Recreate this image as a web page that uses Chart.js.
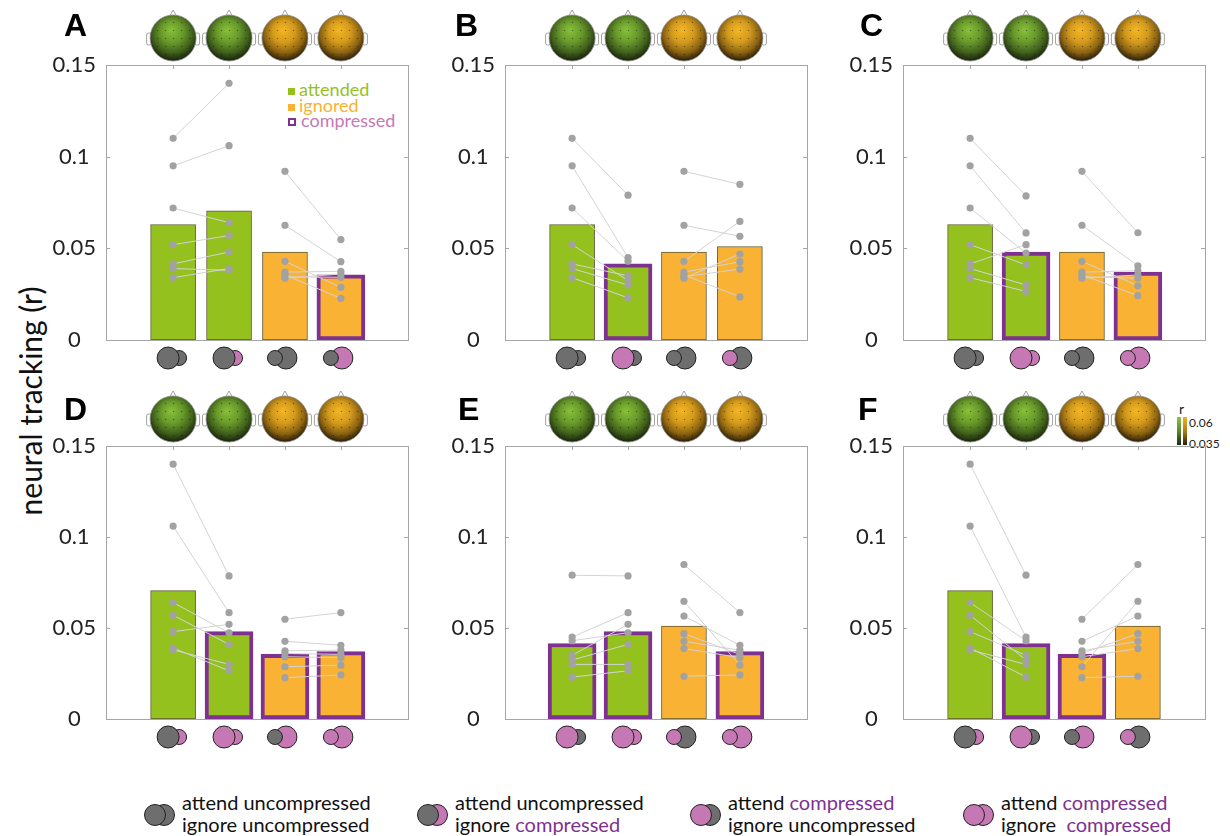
<!DOCTYPE html>
<html>
<head>
<meta charset="utf-8">
<script src="https://cdn.jsdelivr.net/npm/chart.js@4.4.0/dist/chart.umd.min.js"></script>
<style>
  body { margin: 0; background: #fff; font-family: Lato, "Open Sans", sans-serif; }
  #fig { position: relative; width: 1230px; height: 836px; overflow: hidden; background: #fff; }
  #fig canvas { position: absolute; }
  .letter { position: absolute; font: bold 32px "Liberation Sans", Arial, sans-serif; color: #000; line-height: 1; }
  #ytitle { position: absolute; left: 30px; top: 401px; transform: translate(-50%, -50%) rotate(-90deg);
            font-size: 30px; color: #111; white-space: nowrap; }
  #inlegend { position: absolute; left: 288px; top: 82px; font-size: 18px; line-height: 15.5px; }
  #inlegend .sq { display: inline-block; width: 7px; height: 7px; margin-right: 4px; vertical-align: 1px; }
  .leg { position: absolute; top: 791px; }
  .leg svg { position: absolute; left: 0; top: 11px; }
  .leg .lt { position: absolute; left: 39px; top: 0; font-size: 20px; line-height: 22px; color: #111; white-space: nowrap; }
  .purple { color: #7e3191; }
  #cbar { position: absolute; left: 1177px; top: 417px; }
  #cbar .b { position: absolute; top: 0; width: 4px; height: 28px; }
  #cbar .t { position: absolute; font-size: 12px; color: #222; white-space: nowrap; line-height: 1; }
</style>
</head>
<body>
<div id="fig">
  <div id="ytitle">neural tracking (r)</div>
  <div id="inlegend">
    <div style="color:#95c11f"><span class="sq" style="background:#95c11f"></span>attended</div>
    <div style="color:#f9b233"><span class="sq" style="background:#f9b233"></span>ignored</div>
    <div style="color:#c678b4"><span class="sq" style="border:2px solid #7e3191;width:4px;height:4px;margin-right:5px"></span>compressed</div>
  </div>
  <div id="cbar">
    <div class="b" style="left:0;background:linear-gradient(#8cc63f,#5c8a28 50%,#1c2a0c)"></div>
    <div class="b" style="left:6px;background:linear-gradient(#f2b322,#b07e18 50%,#2a1f06)"></div>
    <div class="t" style="left:2px;top:-15px;font-size:14px">r</div>
    <div class="t" style="left:12px;top:0">0.06</div>
    <div class="t" style="left:12px;top:21px">0.035</div>
  </div>
</div>

<script>
// subject values (7 listeners) per condition
// att/ign = which stream is measured, then attended stream U/C, ignored stream U/C
const attUU = [0.110, 0.095, 0.072, 0.052, 0.0415, 0.039, 0.034];
const attUC = [0.140, 0.106, 0.064, 0.057, 0.048, 0.038, 0.039];
const attCU = [0.079, 0.045, 0.043, 0.0324, 0.035, 0.030, 0.023];
const attCC = [0.0786, 0.0584, 0.0474, 0.041, 0.052, 0.030, 0.0265];
const ignUU = [0.092, 0.0626, 0.0429, 0.037, 0.0355, 0.0345, 0.0337];
const ignUC = [0.0548, 0.0427, 0.0287, 0.0375, 0.0227, 0.0342, 0.036];
const ignCU = [0.0849, 0.0566, 0.0647, 0.0427, 0.0235, 0.0387, 0.0469];
const ignCC = [0.0585, 0.0405, 0.0296, 0.0378, 0.0242, 0.0337, 0.0355];

const conditions = ['attUU', 'attUC', 'attCU', 'attCC', 'ignUU', 'ignUC', 'ignCU', 'ignCC'];
const subjects = [attUU, attUC, attCU, attCC, ignUU, ignUC, ignCU, ignCC];
// bar heights (group means)
const means = [0.063, 0.0705, 0.0415, 0.048, 0.048, 0.0355, 0.051, 0.037];

// which four conditions each panel shows
const panelLetters = ['A', 'B', 'C', 'D', 'E', 'F'];
const panelConds = [[0, 1, 4, 5], [0, 2, 4, 6], [0, 3, 4, 7], [1, 3, 5, 7], [2, 3, 6, 7], [1, 2, 5, 6]];

const yTicks = [0, 0.05, 0.1, 0.15];
const yTickLabels = ['0', '0.05', '0.1', '0.15'];

// bottom legend
const legendAtt = ['U', 'U', 'C', 'C'];
const legendIgn = ['U', 'C', 'U', 'C'];

const GREEN = '#95c11f', ORANGE = '#f9b233', PURPLE = '#7e3191';
const GREY_ICON = '#6e6e6e', PINK = '#c678b4';

// layout of the six panels (plot frame positions in the page)
const frameLeft = [106, 505, 903];
const frameTop = [65, 446];
const frameH = [275, 273];
const letterPos = [[64, 9], [455, 9], [860, 9], [64, 393], [458, 393], [858, 393]];

const fig = document.getElementById('fig');

function isAtt(c) { return conditions[c].startsWith('att'); }
function attType(c) { return conditions[c][3]; }
function ignType(c) { return conditions[c][4]; }
function isCompressed(c) { return isAtt(c) ? attType(c) === 'C' : ignType(c) === 'C'; }

function circle(ctx, x, y, r, fill) {
  ctx.beginPath();
  ctx.arc(x, y, r, 0, 2 * Math.PI);
  ctx.fillStyle = fill;
  ctx.fill();
  ctx.lineWidth = 1;
  ctx.strokeStyle = '#222';
  ctx.stroke();
}

function drawHead(ctx, cx, cy, r, warm) {
  ctx.save();
  ctx.lineWidth = 0.8;
  ctx.strokeStyle = '#8a8a8a';
  ctx.fillStyle = '#fff';
  // ears
  [-1, 1].forEach(s => {
    ctx.beginPath();
    ctx.roundRect(cx + s * (r + 1) - 2.5, cy - 5, 5, 12, 2);
    ctx.fill();
    ctx.stroke();
  });
  // nose
  ctx.beginPath();
  ctx.moveTo(cx - 4, cy - r + 2);
  ctx.lineTo(cx, cy - r - 5);
  ctx.lineTo(cx + 4, cy - r + 2);
  ctx.fill();
  ctx.stroke();
  // scalp map
  const g = ctx.createRadialGradient(cx - 2, cy - 8, 1, cx, cy - 4, r * 1.15);
  if (warm) {
    g.addColorStop(0, '#f2b425'); g.addColorStop(0.4, '#d39a1c'); g.addColorStop(0.75, '#8a6212'); g.addColorStop(1, '#2e2108');
  } else {
    g.addColorStop(0, '#86bd38'); g.addColorStop(0.4, '#68992b'); g.addColorStop(0.75, '#3f5f1b'); g.addColorStop(1, '#1a260c');
  }
  ctx.beginPath();
  ctx.arc(cx, cy, r, 0, 2 * Math.PI);
  ctx.fillStyle = g;
  ctx.fill();
  ctx.stroke();
  // electrodes
  ctx.clip();
  ctx.fillStyle = 'rgba(0,0,0,0.5)';
  for (let dx = -16; dx <= 16; dx += 8) {
    for (let dy = -16; dy <= 16; dy += 8) {
      if (dx * dx + dy * dy < (r - 4) * (r - 4)) ctx.fillRect(cx + dx, cy + dy, 1, 1);
    }
  }
  ctx.restore();
}

const decor = {
  id: 'decor',
  beforeDatasetsDraw(chart) {
    const { ctx, chartArea: a, scales } = chart;
    ctx.save();
    ctx.strokeStyle = '#a6a6a6';
    ctx.lineWidth = 1;
    ctx.strokeRect(Math.round(a.left) + 0.5, Math.round(a.top) + 0.5, Math.round(a.width), Math.round(a.height));
    ctx.beginPath();
    for (let i = 1; i <= 4; i++) {
      const x = Math.round(scales.x.getPixelForValue(i)) + 0.5;
      ctx.moveTo(x, a.top); ctx.lineTo(x, a.top + 4);
      ctx.moveTo(x, a.bottom); ctx.lineTo(x, a.bottom - 4);
    }
    [0.05, 0.1].forEach(v => {
      const y = Math.round(scales.y.getPixelForValue(v)) + 0.5;
      ctx.moveTo(a.left, y); ctx.lineTo(a.left + 4, y);
      ctx.moveTo(a.right, y); ctx.lineTo(a.right - 4, y);
    });
    ctx.stroke();
    ctx.restore();
  },
  afterDraw(chart) {
    const { ctx, chartArea: a, scales } = chart;
    const conds = chart.options.plugins.decor.conds;
    conds.forEach((c, i) => {
      const cx = scales.x.getPixelForValue(i + 1);
      drawHead(ctx, cx, a.top - 27, 23, !isAtt(c));
      const cy = a.bottom + 18;
      const left = attType(c) === 'C' ? PINK : GREY_ICON;
      const right = ignType(c) === 'C' ? PINK : GREY_ICON;
      if (isAtt(c)) {
        circle(ctx, cx + 6, cy, 7.5, right);
        circle(ctx, cx - 5, cy, 11, left);
      } else {
        circle(ctx, cx + 1, cy, 11, right);
        circle(ctx, cx - 10, cy, 7.5, left);
      }
    });
  }
};

panelConds.forEach((conds, p) => {
  const col = p % 3, row = Math.floor(p / 3);
  const canvas = document.createElement('canvas');
  const w = 66 + 302 + 8, h = 375;
  canvas.width = w; canvas.height = h;
  canvas.style.left = (frameLeft[col] - 66) + 'px';
  canvas.style.top = (frameTop[row] - 65) + 'px';
  fig.appendChild(canvas);

  const letter = document.createElement('div');
  letter.className = 'letter';
  letter.textContent = panelLetters[p];
  letter.style.left = letterPos[p][0] + 'px';
  letter.style.top = letterPos[p][1] + 'px';
  fig.appendChild(letter);

  const plain = conds.map((c, i) => isCompressed(c) ? null : { x: i + 1, y: means[c] }).filter(d => d);
  const comp = conds.map((c, i) => isCompressed(c) ? { x: i + 1, y: means[c] } : null).filter(d => d);
  const fillFor = d => isAtt(conds[d.x - 1]) ? GREEN : ORANGE;

  const datasets = [
    {
      type: 'bar', data: plain, grouped: false, barThickness: 45, order: 3,
      backgroundColor: plain.map(fillFor), borderColor: '#5f5a30', borderWidth: 1, borderSkipped: false
    },
    {
      type: 'bar', data: comp, grouped: false, barThickness: 48, order: 2,
      backgroundColor: comp.map(fillFor), borderColor: PURPLE, borderWidth: 4, borderSkipped: false
    }
  ];
  for (let s = 0; s < 7; s++) {
    datasets.push({
      type: 'line', order: 1,
      data: conds.map((c, i) => ({ x: i + 1, y: subjects[c][s] })),
      borderColor: '#d3d3d3', borderWidth: 1,
      segment: { borderColor: ctx => ctx.p0DataIndex === 1 ? 'rgba(0,0,0,0)' : '#d3d3d3' },
      pointRadius: 3.6, pointBackgroundColor: '#a2a2a2', pointBorderWidth: 0
    });
  }

  new Chart(canvas, {
    data: { datasets },
    options: {
      responsive: false, animation: false, events: [],
      layout: { padding: { top: 65, bottom: h - 65 - frameH[row], left: 0, right: 8 } },
      plugins: { legend: { display: false }, tooltip: { enabled: false }, decor: { conds } },
      scales: {
        x: { type: 'linear', min: -0.2, max: 5.2, offset: false, display: false },
        y: {
          min: 0, max: 0.15,
          afterFit: s => { s.width = 66; },
          afterBuildTicks: s => { s.ticks = yTicks.map(v => ({ value: v })); },
          border: { display: false },
          grid: { display: false, drawTicks: false },
          ticks: {
            padding: 10, crossAlign: 'center', color: '#222',
            font: { family: 'Lato', size: 22 },
            callback: (v, i) => yTickLabels[i]
          }
        }
      }
    },
    plugins: [decor]
  });
});

// bottom legend
const legendX = [143, 416, 689, 962];
legendAtt.forEach((a, i) => {
  const item = document.createElement('div');
  item.className = 'leg';
  item.style.left = legendX[i] + 'px';
  const lc = a === 'C' ? PINK : GREY_ICON;
  const rc = legendIgn[i] === 'C' ? PINK : GREY_ICON;
  const word = t => t === 'C' ? '<span class="purple">compressed</span>' : 'uncompressed';
  item.innerHTML =
    '<svg width="34" height="26"><circle cx="21" cy="13" r="10.5" fill="' + rc + '" stroke="#222"/>' +
    '<circle cx="12" cy="13" r="10.5" fill="' + lc + '" stroke="#222"/></svg>' +
    '<div class="lt">attend ' + word(a) + '<br>ignore ' + (i === 3 ? '&nbsp;' : '') + word(legendIgn[i]) + '</div>';
  fig.appendChild(item);
});
</script>
</body>
</html>
